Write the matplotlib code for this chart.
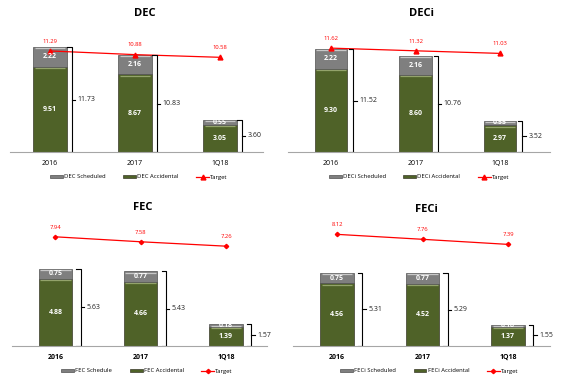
import matplotlib.pyplot as plt
import numpy as np

plt.rcParams['font.family'] = ['Open Sans', 'DejaVu Sans']

cats = ['2016', '2017', '1Q18']

dec_sched = [2.22, 2.16, 0.55]
dec_acc = [9.51, 8.67, 3.05]
dec_total = [11.73, 10.83, 3.60]
dec_target = [11.29, 10.88, 10.58]

deci_sched = [2.22, 2.16, 0.55]
deci_acc = [9.30, 8.60, 2.97]
deci_total = [11.52, 10.76, 3.52]
deci_target = [11.62, 11.32, 11.03]

fec_sched = [0.75, 0.77, 0.18]
fec_acc = [4.88, 4.66, 1.39]
fec_total = [5.63, 5.43, 1.57]
fec_target = [7.94, 7.58, 7.26]

feci_sched = [0.75, 0.77, 0.18]
feci_acc = [4.56, 4.52, 1.37]
feci_total = [5.31, 5.29, 1.55]
feci_target = [8.12, 7.76, 7.39]

W, H = 567, 382
green = '#4f6228'
gray = '#7f7f7f'
red = '#ff0000'

fig = plt.figure(figsize=(W / 100, H / 100), dpi=100)


def panel(x0, x1, top, base, c0, step, scale, name, sched, acc, total, target,
          sched_lab, acc_lab, marker, ms, title_xy, leg_x, br_off):
    ax = fig.add_axes([x0 / W, 1 - base / H, (x1 - x0) / W, (base - top) / H])
    ymax = (base - top) / scale
    ax.set_xlim((x0 - c0) / step, (x1 - c0) / step)
    ax.set_ylim(0, ymax)
    x = np.arange(len(cats))
    bw = 0.39
    b_acc = ax.bar(x, acc, bw, color=green, edgecolor='#3a3a2a', linewidth=0.5)
    b_sch = ax.bar(x, sched, bw, bottom=acc, color=gray, edgecolor='#505050', linewidth=0.5)
    # light strips at the top of each segment
    d = 1.2 / scale
    ax.hlines(np.array(acc) - d, x - bw / 2 + 0.015, x + bw / 2 - 0.015,
              color='#93a36b', linewidth=0.9)
    ax.hlines(np.array(total) - d, x - bw / 2 + 0.015, x + bw / 2 - 0.015,
              color='#c8c8c8', linewidth=0.9)
    ln, = ax.plot(x, target, color=red, linewidth=0.9, marker=marker, markersize=ms)

    for i in x:
        ax.text(i, acc[i] / 2, f'{acc[i]:.2f}', ha='center', va='center', color='white',
                fontsize=5, fontweight='bold')
        ax.text(i, acc[i] + sched[i] / 2, f'{sched[i]:.2f}', ha='center', va='center',
                color='white', fontsize=5, fontweight='bold')
        ax.annotate(f'{target[i]:.2f}', (i, target[i]), xytext=(0, 7), textcoords='offset points',
                    ha='center', va='center', color=red, fontsize=4.2)
        # bracket
        bx = i + bw / 2 + br_off
        ax.plot([bx - 0.05, bx, bx, bx - 0.05], [total[i], total[i], 0.02, 0.02],
                color='black', linewidth=0.8, solid_joinstyle='round')
        ax.plot([bx, bx + 0.04], [total[i] / 2, total[i] / 2], color='black', linewidth=0.8)
        ax.text(bx + 0.07, total[i] / 2, f'{total[i]:.2f}', ha='left', va='center',
                fontsize=5, color='#222222')

    for s in ['top', 'right', 'left']:
        ax.spines[s].set_visible(False)
    ax.spines['bottom'].set_color('#a6a6a6')
    ax.spines['bottom'].set_linewidth(0.8)
    ax.set_yticks([])
    ax.set_xticks(x)
    ax.set_xticklabels(cats, fontsize=5, fontweight='bold' if name.startswith('F') else 'normal')
    ax.tick_params(axis='x', length=0, pad=6)

    ax.legend([b_sch, b_acc, ln], [sched_lab, acc_lab, 'Target'], loc='center', ncol=3,
              bbox_to_anchor=(leg_x, -25 / (base - top)), frameon=False, fontsize=4.2,
              handlelength=2.2, handleheight=0.5, columnspacing=3.0, handletextpad=0.2)

    fig.text(title_xy[0] / W, 1 - title_xy[1] / H, name, ha='center', va='center',
             fontsize=8, fontweight='bold')
    return ax


panel(10, 263, 30, 152, 50, 85, 8.95, 'DEC', dec_sched, dec_acc, dec_total, dec_target,
      'DEC Scheduled', 'DEC Accidental', '^', 3.5, (145, 14), 0.51, 0.06)
panel(288, 550, 30, 152, 331, 84.5, 8.94, 'DECi', deci_sched, deci_acc, deci_total, deci_target,
      'DECi Scheduled', 'DECi Accidental', '^', 3.5, (421, 14), 0.5, 0.07)
panel(12, 267, 220, 346, 55.5, 85.25, 13.75, 'FEC', fec_sched, fec_acc, fec_total, fec_target,
      'FEC Schedule', 'FEC Accidental', 'D', 2.2, (143, 208), 0.53, 0.1)
panel(293, 550, 220, 346, 337, 85.5, 13.75, 'FECi', feci_sched, feci_acc, feci_total, feci_target,
      'FECi Scheduled', 'FECi Accidental', 'D', 2.2, (426, 209), 0.53, 0.1)

plt.savefig('out.png', dpi=100)
